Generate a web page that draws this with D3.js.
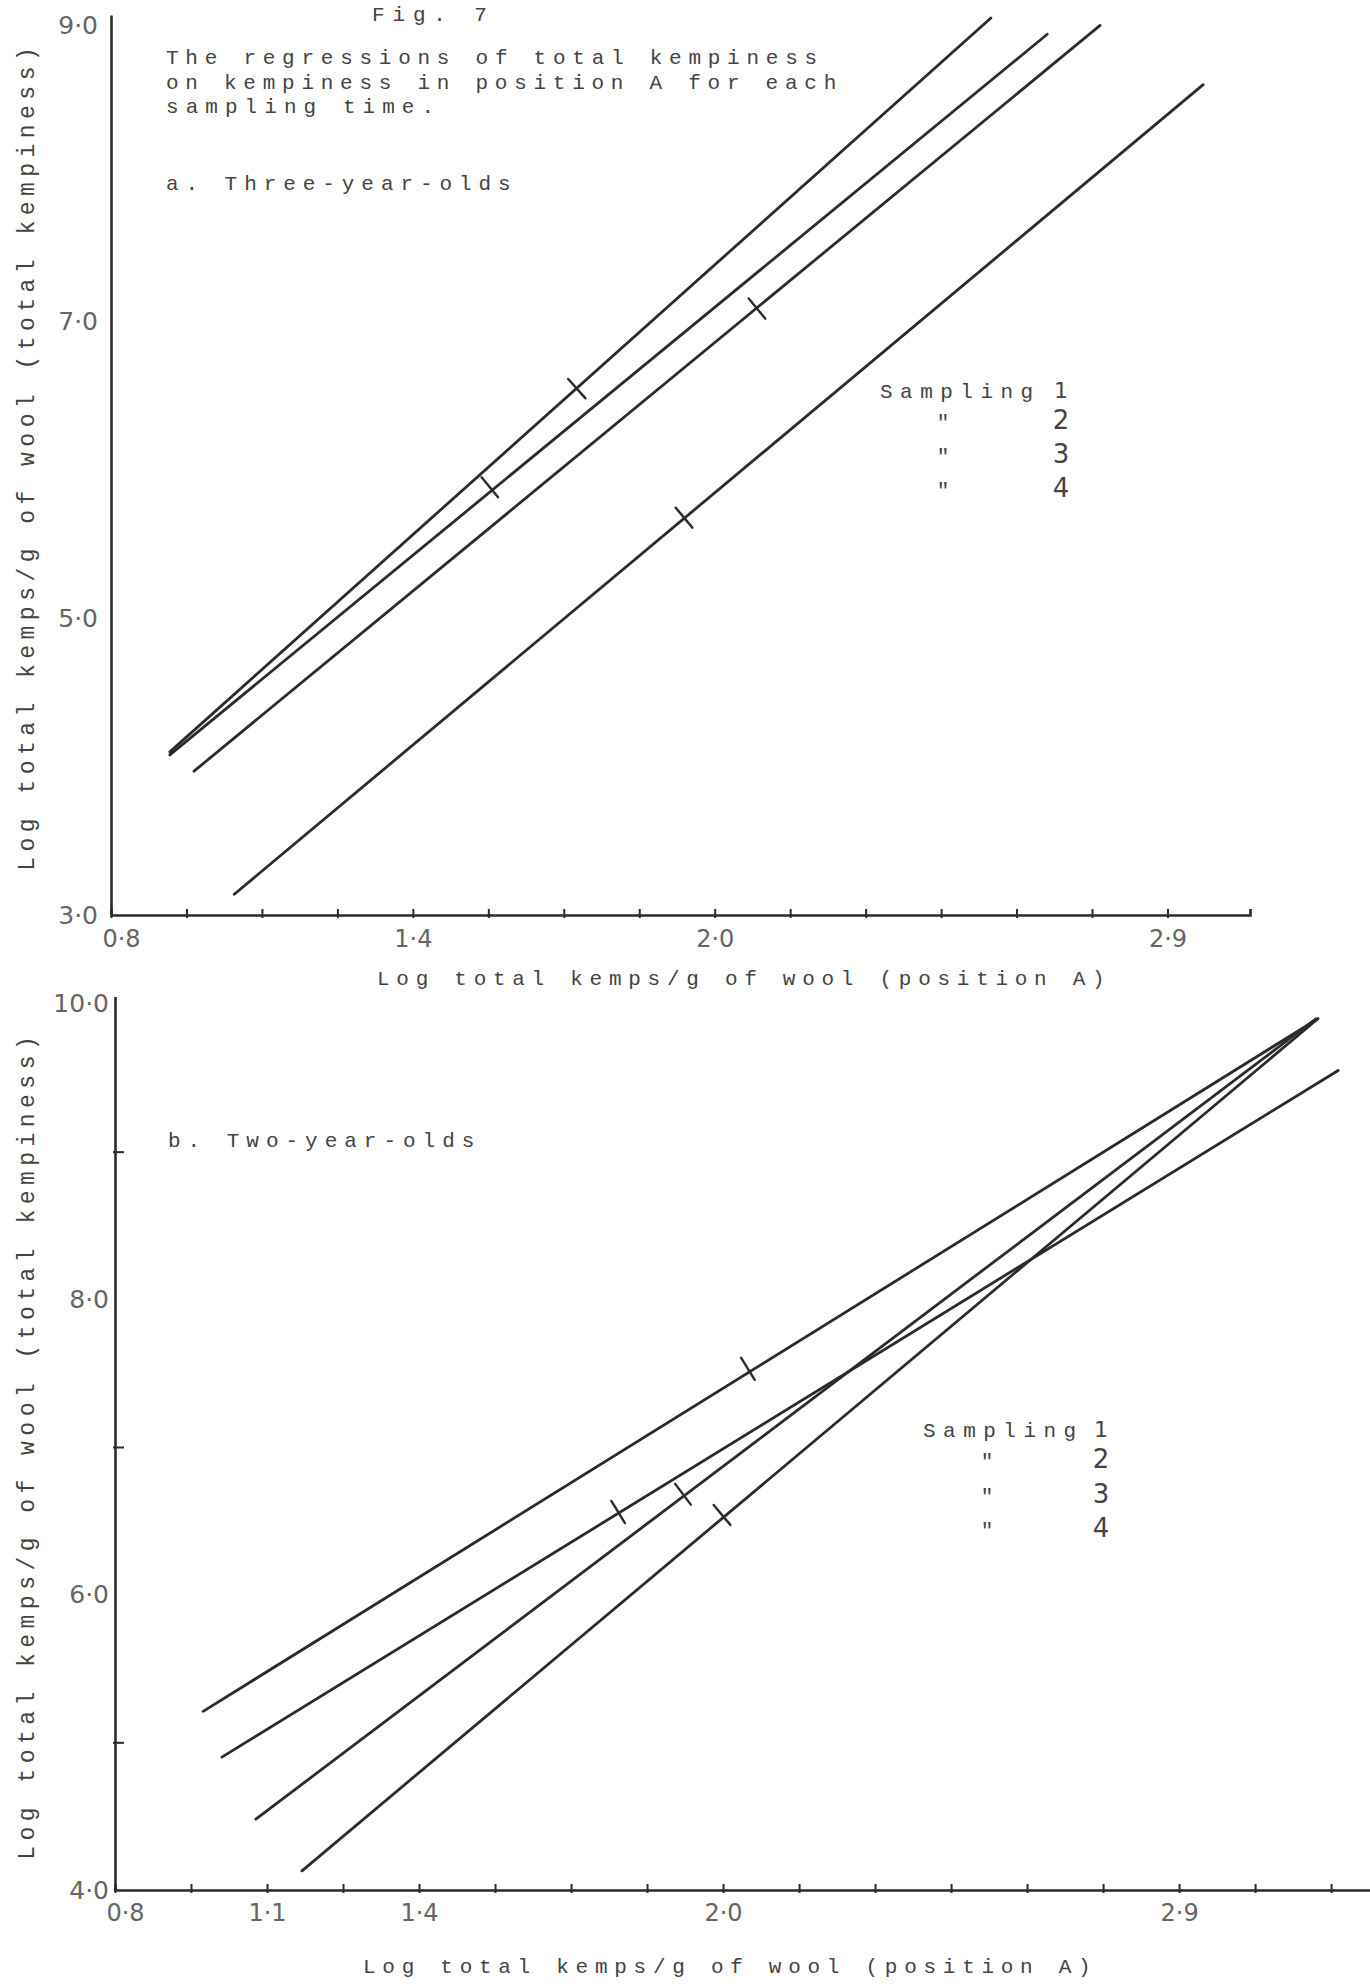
<!DOCTYPE html>
<html>
<head>
<meta charset="utf-8">
<script src="https://cdn.jsdelivr.net/npm/d3@7"></script>
<style>
html,body{margin:0;padding:0;background:#fff;}
svg{display:block;}
</style>
</head>
<body>
<svg id="chart" width="1370" height="1986"></svg>
<script>
// ---------------- DATA ----------------
// Sampling times (legend)
const samplings = ["1", "2", "3", "4"];

// a. Three-year-olds : regression line end points and mean (cross) points
const aX0 = [0.917, 0.917, 0.965, 1.045];
const aY0 = [4.10, 4.08, 3.97, 3.14];
const aX1 = [2.549, 2.661, 2.766, 2.971];
const aY1 = [9.05, 8.94, 9.00, 8.60];
const aMeanX = [1.726, 1.553, 2.084, 1.939];
const aMeanY = [6.55, 5.885, 7.09, 5.68];

// b. Two-year-olds
const bX0 = [0.974, 1.011, 1.078, 1.169];
const bY0 = [5.21, 4.90, 4.48, 4.13];
const bX1 = [3.174, 3.214, 3.170, 3.174];
const bY1 = [9.90, 9.55, 9.90, 9.90];
const bMeanX = [2.049, 1.793, 1.921, 1.998];
const bMeanY = [7.53, 6.56, 6.68, 6.54];

// Axis ticks / labels
const xTicksA = [0.8, 0.95, 1.1, 1.25, 1.4, 1.55, 1.7, 1.85, 2.0, 2.15, 2.3, 2.45, 2.6, 2.75, 2.9];
const xLabelValsA = [0.8, 1.4, 2.0, 2.9];
const xLabelsA = ["0·8", "1·4", "2·0", "2·9"];
const yLabelValsA = [3, 5, 7, 9];
const yLabelsA = ["3·0", "5·0", "7·0", "9·0"];

const xTicksB = [0.8, 0.95, 1.1, 1.25, 1.4, 1.55, 1.7, 1.85, 2.0, 2.15, 2.3, 2.45, 2.6, 2.75, 2.9, 3.05, 3.2];
const xLabelValsB = [0.8, 1.1, 1.4, 2.0, 2.9];
const xLabelsB = ["0·8", "1·1", "1·4", "2·0", "2·9"];
const yTicksB = [4, 5, 6, 7, 8, 9, 10];
const yLabelValsB = [4, 6, 8, 10];
const yLabelsB = ["4·0", "6·0", "8·0", "10·0"];

// Texts
const figLabel = "Fig. 7";
const titleLines = ["The regressions of total kempiness", "on kempiness in position A for each", "sampling time."];
const panelATitle = "a. Three-year-olds";
const panelBTitle = "b. Two-year-olds";
const xTitle = "Log total kemps/g of wool (position A)";
const yTitle = "Log total kemps/g of wool (total kempiness)";

// ---------------- DRAWING ----------------
const svg = d3.select("#chart");
svg.append("rect").attr("width", 1370).attr("height", 1986).attr("fill", "#fff");

const INK = "#2b2b2b", TYPE = "#444", HAND = "#666";
const MONO = "'Liberation Mono','DejaVu Sans Mono',monospace";
const SANS = "'DejaVu Sans','Liberation Sans',sans-serif";
const CH = 19.15; // typewriter pitch
const FS = 21;

function typed(str, x, y, g) {
  return (g || svg).append("text")
    .attr("x", x).attr("y", y).text(str)
    .attr("font-family", MONO).attr("font-size", FS).attr("fill", TYPE)
    .attr("textLength", str.length * CH).attr("lengthAdjust", "spacing");
}
function typedV(str, bx, cy) {
  const len = str.length * CH;
  svg.append("text")
    .attr("transform", `translate(${bx},${cy + len / 2}) rotate(-90)`)
    .attr("x", 0).attr("y", 0).text(str)
    .attr("font-family", MONO).attr("font-size", FS + 2).attr("fill", TYPE)
    .attr("textLength", len).attr("lengthAdjust", "spacing");
}

// header texts
typed(figLabel, 372, 21);
titleLines.forEach((t, i) => typed(t, 166, 64 + i * 24.5));
typed(panelATitle, 166, 190);
typed(panelBTitle, 168, 1147);

const key = v => (+v).toFixed(2);

function drawPanel(p) {
  const g = svg.append("g");
  const { x, y } = p;
  const labelMap = new Map(p.xLabelVals.map((v, i) => [key(v), p.xLabels[i]]));
  const yLabelMap = new Map(p.yLabelVals.map((v, i) => [key(v), p.yLabels[i]]));

  // x axis
  const xa = g.append("g")
    .attr("transform", `translate(0,${y(p.yMin)})`)
    .call(d3.axisBottom(x).tickValues(p.xTicks).tickSizeOuter(0).tickSize(-6)
      .tickPadding(p.xPad).tickFormat(v => labelMap.get(key(v)) || ""));
  xa.select(".domain").attr("stroke", INK).attr("stroke-width", 2.6);
  xa.selectAll(".tick line").attr("stroke", INK).attr("stroke-width", 2).attr("y1", -6).attr("y2", 3);
  xa.selectAll(".tick text").attr("font-family", SANS).attr("font-size", 24).attr("fill", HAND)
    .attr("dx", v => key(v) === "0.80" ? 10 : 0);

  // y axis
  const ya = g.append("g")
    .attr("transform", `translate(${x(0.8)},0)`)
    .call(d3.axisLeft(y).tickValues(p.yTicks).tickSizeOuter(0).tickSize(0)
      .tickPadding(p.yPad).tickFormat(v => yLabelMap.get(key(v)) || ""));
  ya.select(".domain").attr("stroke", INK).attr("stroke-width", 2.6);
  ya.selectAll(".tick line").attr("stroke", INK).attr("stroke-width", 2)
    .attr("x1", v => yLabelMap.has(key(v)) ? 0 : -2)
    .attr("x2", v => yLabelMap.has(key(v)) ? 0 : 9);
  ya.selectAll(".tick text").attr("font-family", SANS).attr("font-size", 25).attr("fill", HAND);

  // regression lines
  const line = d3.line().x(d => x(d[0])).y(d => y(d[1]));
  const series = p.x0.map((_, i) => ({
    pts: [[p.x0[i], p.y0[i]], [p.x1[i], p.y1[i]]],
    mean: [p.mx[i], p.my[i]]
  }));
  g.selectAll("path.reg").data(series).join("path").attr("class", "reg")
    .attr("d", d => line(d.pts)).attr("fill", "none")
    .attr("stroke", INK).attr("stroke-width", 2.8).attr("stroke-linecap", "round");

  // cross marks at means (short strokes perpendicular to the line)
  g.selectAll("line.cross").data(series).join("line").attr("class", "cross")
    .each(function (d) {
      const dx = x(d.pts[1][0]) - x(d.pts[0][0]);
      const dy = y(d.pts[1][1]) - y(d.pts[0][1]);
      const L = Math.hypot(dx, dy);
      const nx = -dy / L, ny = dx / L;
      const cx = x(d.mean[0]), cy = y(d.mean[1]);
      const h = 13;
      d3.select(this).attr("x1", cx - nx * h).attr("y1", cy - ny * h)
        .attr("x2", cx + nx * h).attr("y2", cy + ny * h);
    })
    .attr("stroke", INK).attr("stroke-width", 2.4).attr("stroke-linecap", "round");

  // legend
  const lg = svg.append("g");
  samplings.forEach((s, i) => {
    const by = p.legY + p.legDy[i];
    if (i === 0) typed("Sampling", p.legX, by, lg);
    else lg.append("text").attr("x", p.quoteX).attr("y", by).attr("text-anchor", "middle")
      .attr("font-family", MONO).attr("font-size", FS).attr("fill", TYPE).text("\"");
    lg.append("text").attr("x", p.digitX).attr("y", by).attr("text-anchor", "middle")
      .attr("font-family", SANS).attr("font-size", i === 0 ? 22 : 26).attr("fill", TYPE).text(s);
  });

  // axis titles
  typed(xTitle, p.xTitleX, p.xTitleY);
  typedV(yTitle, 34, p.yTitleC);
}

// Panel a
const xA = d3.scaleLinear().domain([0.8, 3.064]).range([111, 1250]);
const yA = d3.scaleLinear().domain([3, 9.07]).range([915, 15]);
drawPanel({
  x: xA, y: yA, yMin: 3,
  xTicks: xTicksA, xLabelVals: xLabelValsA, xLabels: xLabelsA,
  yTicks: yLabelValsA, yLabelVals: yLabelValsA, yLabels: yLabelsA,
  xPad: 15, yPad: 13,
  x0: aX0, y0: aY0, x1: aX1, y1: aY1, mx: aMeanX, my: aMeanY,
  legX: 880, legY: 398, legDy: [0, 31, 65, 99], quoteX: 943, digitX: 1061,
  xTitleX: 377, xTitleY: 985, yTitleC: 459
});

// Panel b
const xB = d3.scaleLinear().domain([0.8, 3.3]).range([115, 1381.75]);
const yB = d3.scaleLinear().domain([4, 10.05]).range([1890, 996.6]);
drawPanel({
  x: xB, y: yB, yMin: 4,
  xTicks: xTicksB, xLabelVals: xLabelValsB, xLabels: xLabelsB,
  yTicks: yTicksB, yLabelVals: yLabelValsB, yLabels: yLabelsB,
  xPad: 14, yPad: 6,
  x0: bX0, y0: bY0, x1: bX1, y1: bY1, mx: bMeanX, my: bMeanY,
  legX: 923, legY: 1437, legDy: [0, 31, 66, 100], quoteX: 987, digitX: 1101,
  xTitleX: 363, xTitleY: 1973, yTitleC: 1448
});
</script>
</body>
</html>
